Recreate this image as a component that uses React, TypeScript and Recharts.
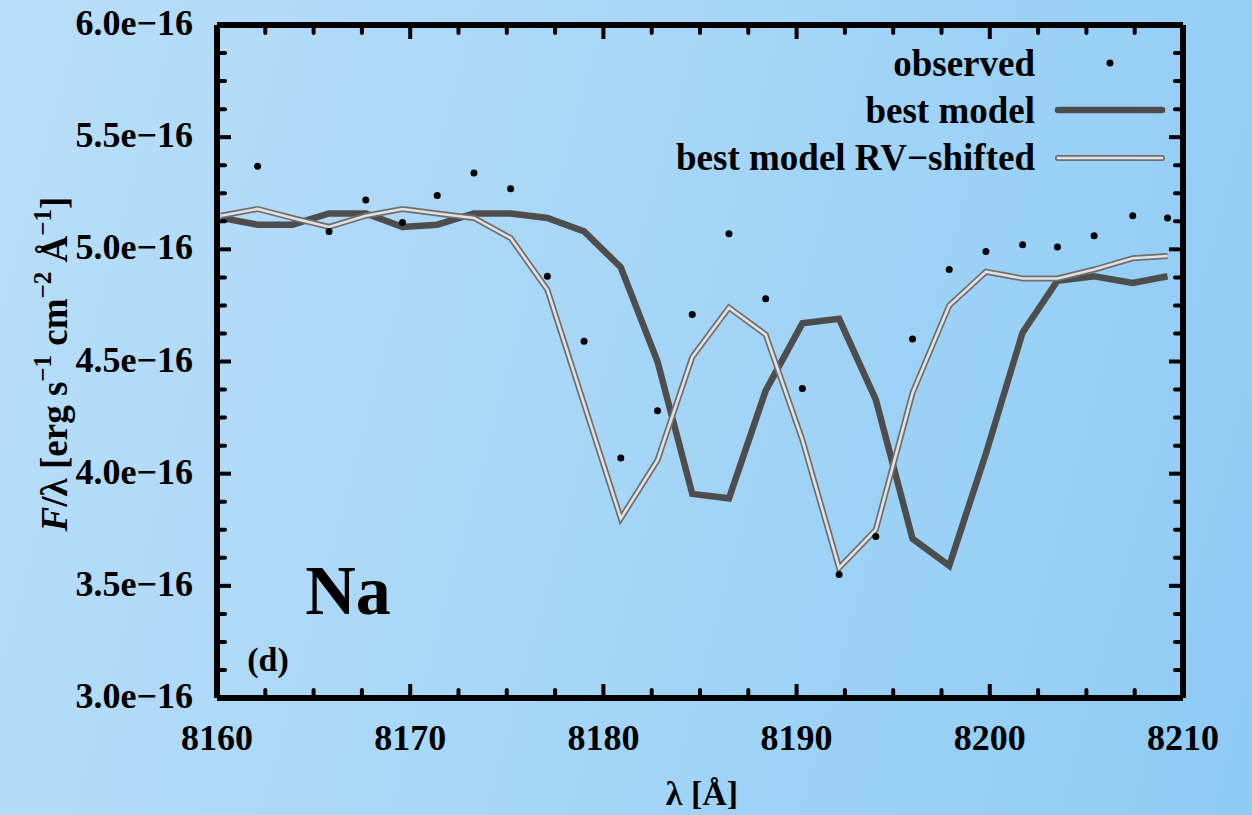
import { ComposedChart, Line, Scatter, XAxis, YAxis } from "recharts";

// flux values in units of 1e-16 erg s^-1 cm^-2 A^-1
const modelWavelength = [
  8160.2, 8162.1, 8163.9, 8165.8, 8167.7, 8169.6, 8171.4, 8173.3, 8175.2,
  8177.1, 8179.0, 8180.9, 8182.8, 8184.6, 8186.5, 8188.4, 8190.3, 8192.2,
  8194.1, 8196.0, 8197.9, 8199.8, 8201.7, 8203.5, 8205.4, 8207.4, 8209.2,
];
const bestModel = [
  5.14, 5.11, 5.11, 5.16, 5.16, 5.1, 5.11, 5.16, 5.16,
  5.14, 5.08, 4.92, 4.5, 3.91, 3.89, 4.37, 4.67, 4.69,
  4.33, 3.71, 3.59, 4.09, 4.63, 4.86, 4.88, 4.85, 4.88,
];
const rvShifted = [
  5.15, 5.18, 5.14, 5.1, 5.15, 5.18, 5.16, 5.14, 5.05,
  4.82, 4.31, 3.8, 4.06, 4.52, 4.74, 4.62, 4.15, 3.58,
  3.75, 4.36, 4.75, 4.9, 4.87, 4.87, 4.91, 4.96, 4.97,
];
const obsWavelength = [
  8162.1, 8165.8, 8167.7, 8169.6, 8171.4, 8173.3, 8175.2, 8177.1,
  8179.0, 8180.9, 8182.8, 8184.6, 8186.5, 8188.4, 8190.3, 8192.2, 8194.1,
  8196.0, 8197.9, 8199.8, 8201.7, 8203.5, 8205.4, 8207.4, 8209.2,
];
const observed = [
  5.37, 5.08, 5.22, 5.12, 5.24, 5.34, 5.27, 4.88,
  4.59, 4.07, 4.28, 4.71, 5.07, 4.78, 4.38, 3.55, 3.72,
  4.6, 4.91, 4.99, 5.02, 5.01, 5.06, 5.15, 5.14,
];

const xMajorTicks = [8160, 8170, 8180, 8190, 8200, 8210];
const xMinorTicks = [
  8162.5, 8165, 8167.5, 8172.5, 8175, 8177.5, 8182.5, 8185, 8187.5,
  8192.5, 8195, 8197.5, 8202.5, 8205, 8207.5,
];
const yMajorTicks = [3.0, 3.5, 4.0, 4.5, 5.0, 5.5, 6.0];
const yMinorTicks = [
  3.125, 3.25, 3.375, 3.625, 3.75, 3.875, 4.125, 4.25, 4.375, 4.625, 4.75,
  4.875, 5.125, 5.25, 5.375, 5.625, 5.75, 5.875,
];

const bestData = modelWavelength.map((x, i) => ({ x, y: bestModel[i] }));
const rvData = modelWavelength.map((x, i) => ({ x, y: rvShifted[i] }));
const obsData = obsWavelength.map((x, i) => ({ x, y: observed[i] }));

const FONT = "'Liberation Serif', 'DejaVu Serif', serif";
const textStyle = { fontFamily: FONT, fontWeight: 700, fill: "#000" };

const isMajorX = (v: number) => xMajorTicks.includes(v);
const isMajorY = (v: number) => yMajorTicks.some((t) => Math.abs(t - v) < 1e-6);

function BottomTick({ x, y, payload }: any) {
  const major = isMajorX(payload.value);
  return (
    <g>
      <line x1={x} x2={x} y1={y} y2={y - (major ? 14 : 8)} stroke="#000" strokeWidth={4} strokeLinecap={major ? "butt" : "round"} />
      {major && (
        <text x={x} y={y + 52} textAnchor="middle" fontSize={36} {...textStyle}>
          {payload.value}
        </text>
      )}
    </g>
  );
}

function TopTick({ x, y, payload }: any) {
  const major = isMajorX(payload.value);
  return <line x1={x} x2={x} y1={y} y2={y + (major ? 14 : 8)} stroke="#000" strokeWidth={4} strokeLinecap={major ? "butt" : "round"} />;
}

function LeftTick({ x, y, payload }: any) {
  const major = isMajorY(payload.value);
  return (
    <g>
      <line x1={x} x2={x + (major ? 14 : 8)} y1={y} y2={y} stroke="#000" strokeWidth={4} strokeLinecap={major ? "butt" : "round"} />
      {major && (
        <text x={x - 24} y={y + 10} textAnchor="end" fontSize={36} {...textStyle}>
          {`${payload.value.toFixed(1)}e\u221216`}
        </text>
      )}
    </g>
  );
}

function RightTick({ x, y, payload }: any) {
  const major = isMajorY(payload.value);
  return <line x1={x} x2={x - (major ? 14 : 8)} y1={y} y2={y} stroke="#000" strokeWidth={4} strokeLinecap={major ? "butt" : "round"} />;
}

const axisLine = { stroke: "#000", strokeWidth: 6 };
const xTicks = [...xMajorTicks, ...xMinorTicks];
const yTicks = [...yMajorTicks, ...yMinorTicks];

export default function App() {
  return (
    <div
      style={{
        position: "absolute",
        left: 0,
        top: 0,
        width: 1252,
        height: 815,
        background: "linear-gradient(105deg, #b9def8 0%, #a6d6f7 50%, #8ecbf5 100%)",
        overflow: "hidden",
      }}
    >
      <ComposedChart width={1252} height={815} margin={{ top: 24, right: 68, bottom: 116, left: 216 }}>
        <XAxis xAxisId="b" type="number" dataKey="x" orientation="bottom" domain={[8160, 8210]} ticks={xTicks} interval={0} height={1} tickSize={0} tickMargin={0} tickLine={false} axisLine={axisLine} tick={(p: any) => <BottomTick {...p} />} allowDataOverflow />
        <XAxis xAxisId="t" type="number" dataKey="x" orientation="top" domain={[8160, 8210]} ticks={xTicks} interval={0} height={1} tickSize={0} tickMargin={0} tickLine={false} axisLine={axisLine} tick={(p: any) => <TopTick {...p} />} allowDataOverflow />
        <YAxis yAxisId="l" type="number" dataKey="y" orientation="left" domain={[3, 6]} ticks={yTicks} interval={0} width={1} tickSize={0} tickMargin={0} tickLine={false} axisLine={axisLine} tick={(p: any) => <LeftTick {...p} />} allowDataOverflow />
        <YAxis yAxisId="r" type="number" dataKey="y" orientation="right" domain={[3, 6]} ticks={yTicks} interval={0} width={1} tickSize={0} tickMargin={0} tickLine={false} axisLine={axisLine} tick={(p: any) => <RightTick {...p} />} allowDataOverflow />
        <Scatter
          xAxisId="b"
          yAxisId="l"
          data={obsData}
          isAnimationActive={false}
          shape={(p: any) => <circle cx={p.cx} cy={p.cy} r={3.5} fill="#000" />}
        />
        <Line xAxisId="b" yAxisId="l" data={bestData} dataKey="y" type="linear" stroke="#4d4d4d" strokeWidth={6.5} dot={false} isAnimationActive={false} />
        <Line xAxisId="b" yAxisId="l" data={rvData} dataKey="y" type="linear" stroke="#6e6e6e" strokeWidth={6} dot={false} isAnimationActive={false} />
        <Line xAxisId="b" yAxisId="l" data={rvData} dataKey="y" type="linear" stroke="#e2e2e2" strokeWidth={2.6} dot={false} isAnimationActive={false} />
      </ComposedChart>
      <svg width={1252} height={815} style={{ position: "absolute", left: 0, top: 0, pointerEvents: "none" }}>
        {/* legend */}
        <text x={1035} y={76} textAnchor="end" fontSize={37} {...textStyle}>observed</text>
        <circle cx={1110} cy={63} r={3.5} fill="#000" />
        <text x={1035} y={123} textAnchor="end" fontSize={37} {...textStyle}>best model</text>
        <line x1={1058} x2={1162} y1={110} y2={110} stroke="#4d4d4d" strokeWidth={6.5} strokeLinecap="round" />
        <text x={1035} y={170} textAnchor="end" fontSize={37} {...textStyle}>best model RV{"\u2212"}shifted</text>
        <line x1={1058} x2={1162} y1={158} y2={158} stroke="#6e6e6e" strokeWidth={6} strokeLinecap="round" />
        <line x1={1058} x2={1162} y1={158} y2={158} stroke="#e2e2e2" strokeWidth={2.6} strokeLinecap="round" />
        {/* annotations */}
        <text x={348} y={614} textAnchor="middle" fontSize={70} {...textStyle}>Na</text>
        <text x={268} y={671} textAnchor="middle" fontSize={34} {...textStyle}>(d)</text>
        <text x={702} y={805} textAnchor="middle" fontSize={34} {...textStyle}>λ [Å]</text>
        <text transform="translate(67,364) rotate(-90)" textAnchor="middle" fontSize={37} {...textStyle}>
          <tspan fontStyle="italic">F</tspan>
          <tspan>/λ [erg s</tspan>
          <tspan fontSize={25} dy={-16}>{"\u2212"}1</tspan>
          <tspan dy={16}> cm</tspan>
          <tspan fontSize={25} dy={-16}>{"\u2212"}2</tspan>
          <tspan dy={16}> Å</tspan>
          <tspan fontSize={25} dy={-16}>{"\u2212"}1</tspan>
          <tspan dy={16}>]</tspan>
        </text>
      </svg>
    </div>
  );
}
